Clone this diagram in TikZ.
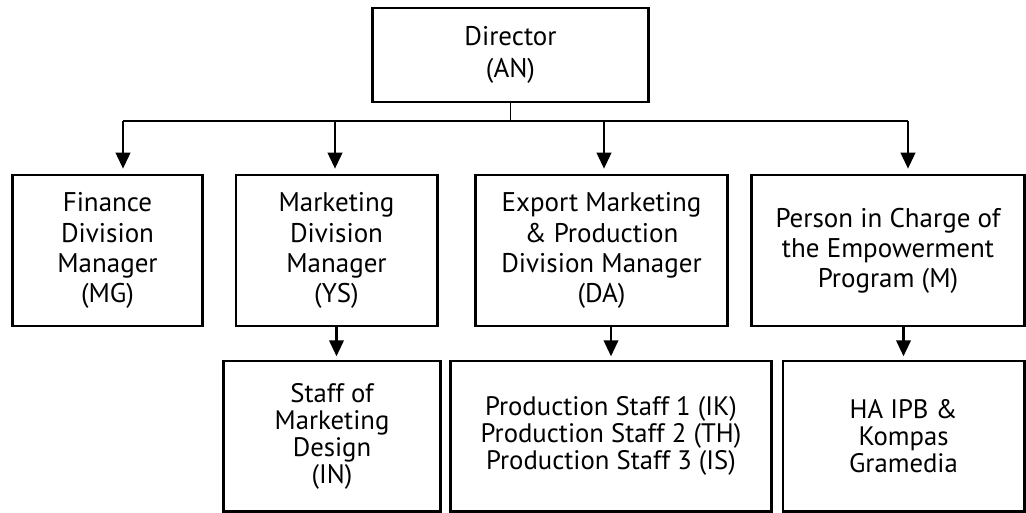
\documentclass[tikz,border=0pt]{standalone}
\usepackage{fontspec}
\setmainfont{PT Sans}
\usetikzlibrary{
    arrows.meta,
    positioning,
    calc
}

\begin{document}
\begin{tikzpicture}[
    x=0.025cm, y=-0.025cm,
    box/.style={rectangle, draw=black, line width=2.1pt, align=center, inner sep=0pt,
        font=\fontsize{19.2}{21.4}\selectfont},
    staffbox/.style={box, font=\fontsize{19}{19.2}\selectfont, minimum height=3.75cm},
    arrow/.style={-{Triangle[length=0.4cm,width=0.36cm]}, line width=1.8pt},
    bus/.style={line width=0.9pt}
]

    \useasboundingbox (0,0) rectangle (1026,513);

    % Boxes
    \node (dir) [box, minimum width=6.875cm, minimum height=2.35cm, font=\fontsize{19.2}{22.8}\selectfont] at (510.5,55) {\raisebox{-2pt}{}Director\\(AN)};
    \node (fin) [box, minimum width=4.725cm, minimum height=3.775cm] at (107.5,250.5) {Finance\\Division\\Manager\\(MG)};
    \node (mkt) [box, minimum width=5.025cm, minimum height=3.775cm] at (336.5,250.5) {Marketing\\Division\\Manager\\(YS)};
    \node (exp) [box, minimum width=6.275cm, minimum height=3.775cm] at (601.5,250.5) {Export Marketing\\\& Production\\Division Manager\\(DA)};
    \node (pic) [box, minimum width=6.8cm, minimum height=3.775cm] at (888,250.5) {Person in Charge of\\the Empowerment\\Program (M)};
    \node (stf) [staffbox, minimum width=5.4cm] at (332,436) {Staff of\\Marketing\\Design\\(IN)};
    \node (prd) [staffbox, minimum width=8cm] at (611,436) {Production Staff 1 (IK)\\Production Staff 2 (TH)\\Production Staff 3 (IS)};
    \node (ha) [staffbox, minimum width=6.025cm] at (903.5,436) {HA IPB \&\\Kompas\\Gramedia};

    % Bus
    \coordinate (b1) at (123,121);
    \coordinate (b2) at (335,121);
    \coordinate (b3) at (604,121);
    \coordinate (b4) at (908,121);
    \draw [bus] (dir.south) -- (dir.south |- b1);
    \draw [bus] (b1) -- (b4);

    % Arrows
    \draw [arrow, shorten >=0.12cm] (b1) -- (b1 |- fin.north);
    \draw [arrow, shorten >=0.12cm] (b2) -- (b2 |- mkt.north);
    \draw [arrow, shorten >=0.12cm] (b3) -- (b3 |- exp.north);
    \draw [arrow, shorten >=0.12cm] (b4) -- (b4 |- pic.north);
    \draw [arrow, shorten >=0.08cm] (mkt.south) -- (mkt.south |- stf.north);
    \draw [arrow, shorten >=0.08cm] (exp.south -| prd.north) -- (prd.north);
    \draw [arrow, shorten >=0.08cm] (pic.south -| ha.north) -- (ha.north);

\end{tikzpicture}
\end{document}
